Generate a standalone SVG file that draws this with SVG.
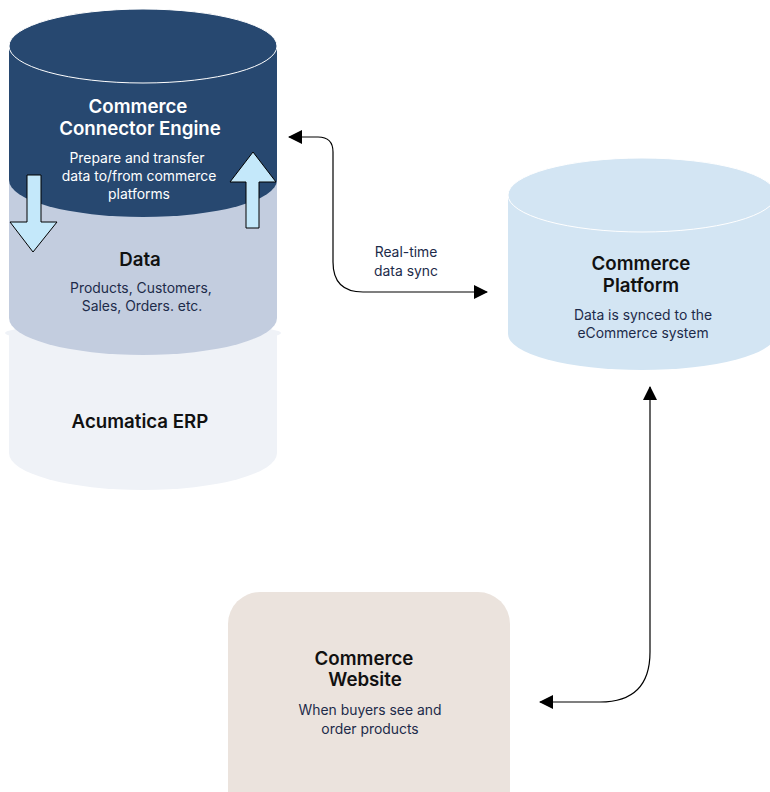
<svg xmlns="http://www.w3.org/2000/svg" width="770" height="792" viewBox="0 0 770 792">
<defs>
<style>
.h{font-family:Inter,"Liberation Sans",sans-serif;font-weight:600;font-size:18.7px;text-anchor:middle}
.s{font-family:Inter,"Liberation Sans",sans-serif;font-size:13.9px;text-anchor:middle;fill:#1d2b4a}
.w{fill:#ffffff}
.k{fill:#111111}
.conn{fill:none;stroke:#000;stroke-width:1.2}
.blk{fill:#c4e8fa;stroke:#000;stroke-width:1}
</style>
<marker id="ah" viewBox="0 0 14 14" refX="13" refY="7" markerWidth="14" markerHeight="14" markerUnits="userSpaceOnUse" orient="auto-start-reverse">
<path d="M0,0 L14,7 L0,14 Z" fill="#000"/>
</marker>
</defs>
<rect width="770" height="792" fill="#fff"/>

<g id="erp">
<path d="M9,333 L277,333 L277,453 A134,37 0 0 1 9,453 Z" fill="#eff2f7"/>
<ellipse cx="143" cy="333" rx="138" ry="10" fill="#eff2f7"/>
<text class="h k" x="140" y="428">Acumatica ERP</text>
</g>

<g id="data">
<path d="M9,180 L277,180 L277,318 A134,37 0 0 1 9,318 Z" fill="#c3cddf"/>
<text class="h k" x="140" y="266">Data</text>
<text class="s" x="141" y="293">Products, Customers,</text>
<text class="s" x="142" y="311">Sales, Orders. etc.</text>
</g>

<g id="engine">
<path d="M9,46 L277,46 L277,180 A134,37 0 0 1 9,180 Z" fill="#274870"/>
<ellipse cx="143" cy="46" rx="134" ry="37" fill="#274870" stroke="#ffffff" stroke-width="1"/>
<text class="h w" x="138" y="113">Commerce</text>
<text class="h w" x="140" y="135">Connector Engine</text>
<text class="s w" x="137" y="163">Prepare and transfer</text>
<text class="s w" x="139" y="181">data to/from commerce</text>
<text class="s w" x="139" y="199">platforms</text>
</g>

<g id="arrow-down">
<path class="blk" d="M27,175 L41,175 L41,222 L57,222 L33,252 L10,222 L27,222 Z"/>
</g>
<g id="arrow-up">
<path class="blk" d="M246,228 L259,228 L259,182 L276,182 L253,152 L230,182 L246,182 Z"/>
</g>

<g id="platform">
<path d="M508,195 L776,195 L776,334 A134,36 0 0 1 508,334 Z" fill="#d3e5f3"/>
<ellipse cx="642" cy="195" rx="134" ry="37" fill="#d3e5f3" stroke="#ffffff" stroke-width="1"/>
<text class="h k" x="641" y="270">Commerce</text>
<text class="h k" x="641" y="292">Platform</text>
<text class="s" x="643" y="320">Data is synced to the</text>
<text class="s" x="643" y="338">eCommerce system</text>
</g>

<g id="website">
<rect x="228" y="592" width="282" height="240" rx="32" fill="#ebe3dd"/>
<text class="h k" x="364" y="665">Commerce</text>
<text class="h k" x="365" y="686">Website</text>
<text class="s" x="370" y="715">When buyers see and</text>
<text class="s" x="370" y="734">order products</text>
</g>

<g id="connectors">
<path class="conn" d="M289,137 L318,137 Q333,137 333,152 L333,262 Q333,292 363,292 L487,292" marker-start="url(#ah)" marker-end="url(#ah)"/>
<text class="s" x="406" y="257">Real-time</text>
<text class="s" x="406" y="276">data sync</text>
<path class="conn" d="M650,387 L650,652 Q650,702 600,702 L540,702" marker-start="url(#ah)" marker-end="url(#ah)"/>
</g>
</svg>
